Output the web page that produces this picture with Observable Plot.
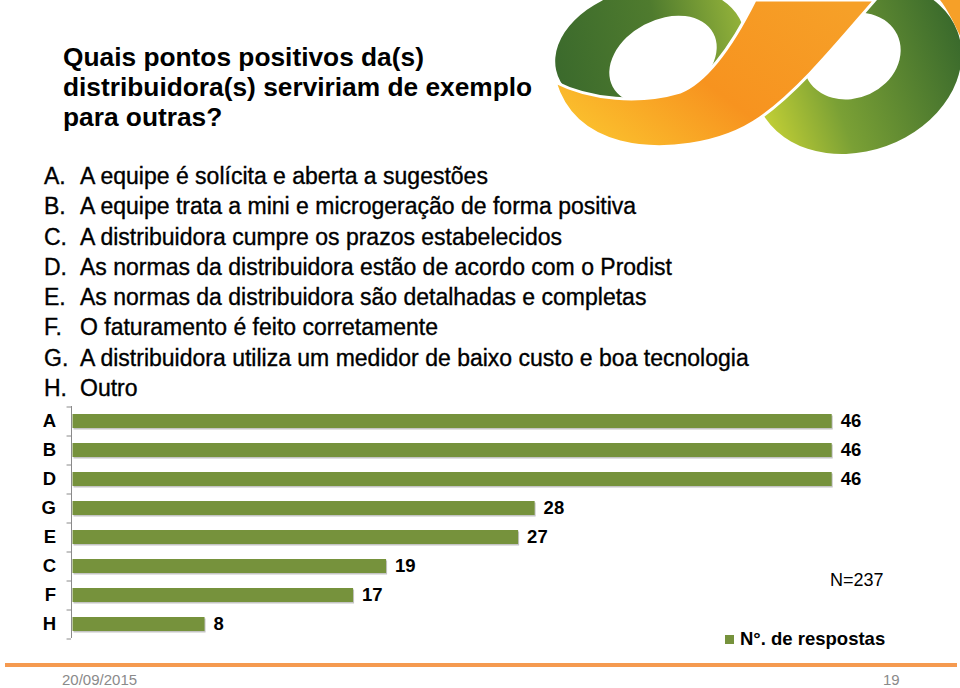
<!DOCTYPE html>
<html><head><meta charset="utf-8">
<script src="https://cdn.jsdelivr.net/npm/d3@7"></script>
<script src="https://cdn.jsdelivr.net/npm/@observablehq/plot@0.6"></script>
<style>
body{margin:0;background:#fff;}
#page{position:relative;width:960px;height:688px;overflow:hidden;font-family:"Liberation Sans",Arial,sans-serif;color:#000;}
.abs{position:absolute;}
#title{left:63px;top:42px;font-size:26.3px;font-weight:bold;line-height:30px;}
#list{left:44px;top:161px;font-size:23px;line-height:30.3px;-webkit-text-stroke:0.35px #000;}
#list .row{white-space:nowrap;}
#list .k{display:inline-block;width:36px;}
#chart{left:0;top:380px;}
#n{left:830px;top:570px;font-size:18px;line-height:20px;}
#legend{left:725px;top:628px;font-size:18.5px;font-weight:bold;line-height:22px;white-space:nowrap;}
#legend .sw{display:inline-block;width:9px;height:9px;background:#76923C;margin-right:6px;vertical-align:1px;}
#footline{left:5px;top:663px;width:952px;height:4px;background:#F59A50;}
.foot{top:673px;font-size:15px;line-height:14px;color:#8a8a8a;}
</style></head>
<body>
<div id="page">
<svg class="abs" style="left:540px;top:0" width="420" height="160" viewBox="540 0 420 160">
  <defs>
    <linearGradient id="gL" x1="0" x2="1" y1="0" y2="0">
      <stop offset="0" stop-color="#3b6a2c"/><stop offset="0.55" stop-color="#4f7b2e"/><stop offset="1" stop-color="#93b23a"/>
    </linearGradient>
    <linearGradient id="gR" x1="0" x2="1" y1="0" y2="0">
      <stop offset="0" stop-color="#c2cf35"/><stop offset="0.35" stop-color="#7aa035"/><stop offset="1" stop-color="#3a6a2c"/>
    </linearGradient>
    <linearGradient id="gO" x1="0" x2="1" y1="0.8" y2="0.2">
      <stop offset="0" stop-color="#fbc22e"/><stop offset="0.45" stop-color="#f7931f"/><stop offset="1" stop-color="#f6a028"/>
    </linearGradient>
  </defs>
  <ellipse cx="650" cy="50" rx="96" ry="63" transform="rotate(-12 650 50)" fill="url(#gL)"/>
  <ellipse cx="663" cy="60" rx="57" ry="40" transform="rotate(-28 663 60)" fill="#fff"/>
  <ellipse cx="858" cy="68" rx="106" ry="83" transform="rotate(-20 858 68)" fill="url(#gR)"/>
  <ellipse cx="852" cy="56" rx="50" ry="42" transform="rotate(-25 852 56)" fill="#fff"/>
  <path d="M555,82 C590,100 640,104 680,92 C710,80 735,40 755,0 L875,0 C840,40 800,90 760,118 C720,146 660,152 620,142 C590,134 565,116 555,82 Z" fill="url(#gO)" stroke="#fff" stroke-width="3"/>
  <path d="M940,0 L962,0 L962,40 C955,25 948,10 940,0 Z" fill="#f6a028"/>
</svg>
<div id="title" class="abs">Quais pontos positivos da(s)<br>distribuidora(s) serviriam de exemplo<br>para outras?</div>
<div id="list" class="abs"></div>
<div id="chart" class="abs"></div>
<div id="n" class="abs">N=237</div>
<div id="legend" class="abs"><span class="sw"></span>N°. de respostas</div>
<div id="footline" class="abs"></div>
<div class="abs foot" style="left:62px">20/09/2015</div>
<div class="abs foot" style="left:883px">19</div>
</div>
<script>
const listKeys = ["A.","B.","C.","D.","E.","F.","G.","H."];
const listTexts = [
  "A equipe é solícita e aberta a sugestões",
  "A equipe trata a mini e microgeração de forma positiva",
  "A distribuidora cumpre os prazos estabelecidos",
  "As normas da distribuidora estão de acordo com o Prodist",
  "As normas da distribuidora são detalhadas e completas",
  "O faturamento é feito corretamente",
  "A distribuidora utiliza um medidor de baixo custo e boa tecnologia",
  "Outro"
];
const categories = ["A","B","D","G","E","C","F","H"];
const responses = [46,46,46,28,27,19,17,8];

const listEl = document.getElementById("list");
listKeys.forEach((k,i)=>{
  const row = document.createElement("div");
  row.className = "row";
  const ks = document.createElement("span"); ks.className = "k"; ks.textContent = k;
  row.appendChild(ks);
  row.appendChild(document.createTextNode(listTexts[i]));
  listEl.appendChild(row);
});

const data = categories.map((c,i)=>({cat:c, n:responses[i]}));
const axisColor = "#8a8a8a";
const chart = Plot.plot({
  width:960, height:270,
  marginLeft:72.5, marginRight:128.3, marginTop:26, marginBottom:12,
  style:{fontFamily:'"Liberation Sans", Arial, sans-serif', background:"transparent", overflow:"visible"},
  x:{domain:[0,46], axis:null},
  y:{domain:categories, paddingInner:0.53, paddingOuter:0.265, axis:null},
  marks:[
    Plot.barX(data,{x:"n", y:"cat", fill:"#c4c4c4", dx:1, dy:1.5}),
    Plot.barX(data,{x:"n", y:"cat", fill:"#76923C"}),
    Plot.ruleX([0],{stroke:axisColor, dx:-1.5}),
    Plot.ruleY(categories,{y:d=>d, x1:-0.36, x2:-0.09, stroke:axisColor, dy:-14.5}),
    Plot.ruleY(categories.slice(-1),{y:d=>d, x1:-0.36, x2:-0.09, stroke:axisColor, dy:14.5}),
    Plot.text(categories,{x:0, y:d=>d, text:d=>d, textAnchor:"end", dx:-17, fontSize:18.5, fontWeight:"bold", fill:"#000"}),
    Plot.text(data,{x:"n", y:"cat", text:d=>String(d.n), dx:8.5, textAnchor:"start", fontSize:18.5, fontWeight:"bold", fill:"#000"})
  ]
});
document.getElementById("chart").appendChild(chart);
</script>
</body></html>
